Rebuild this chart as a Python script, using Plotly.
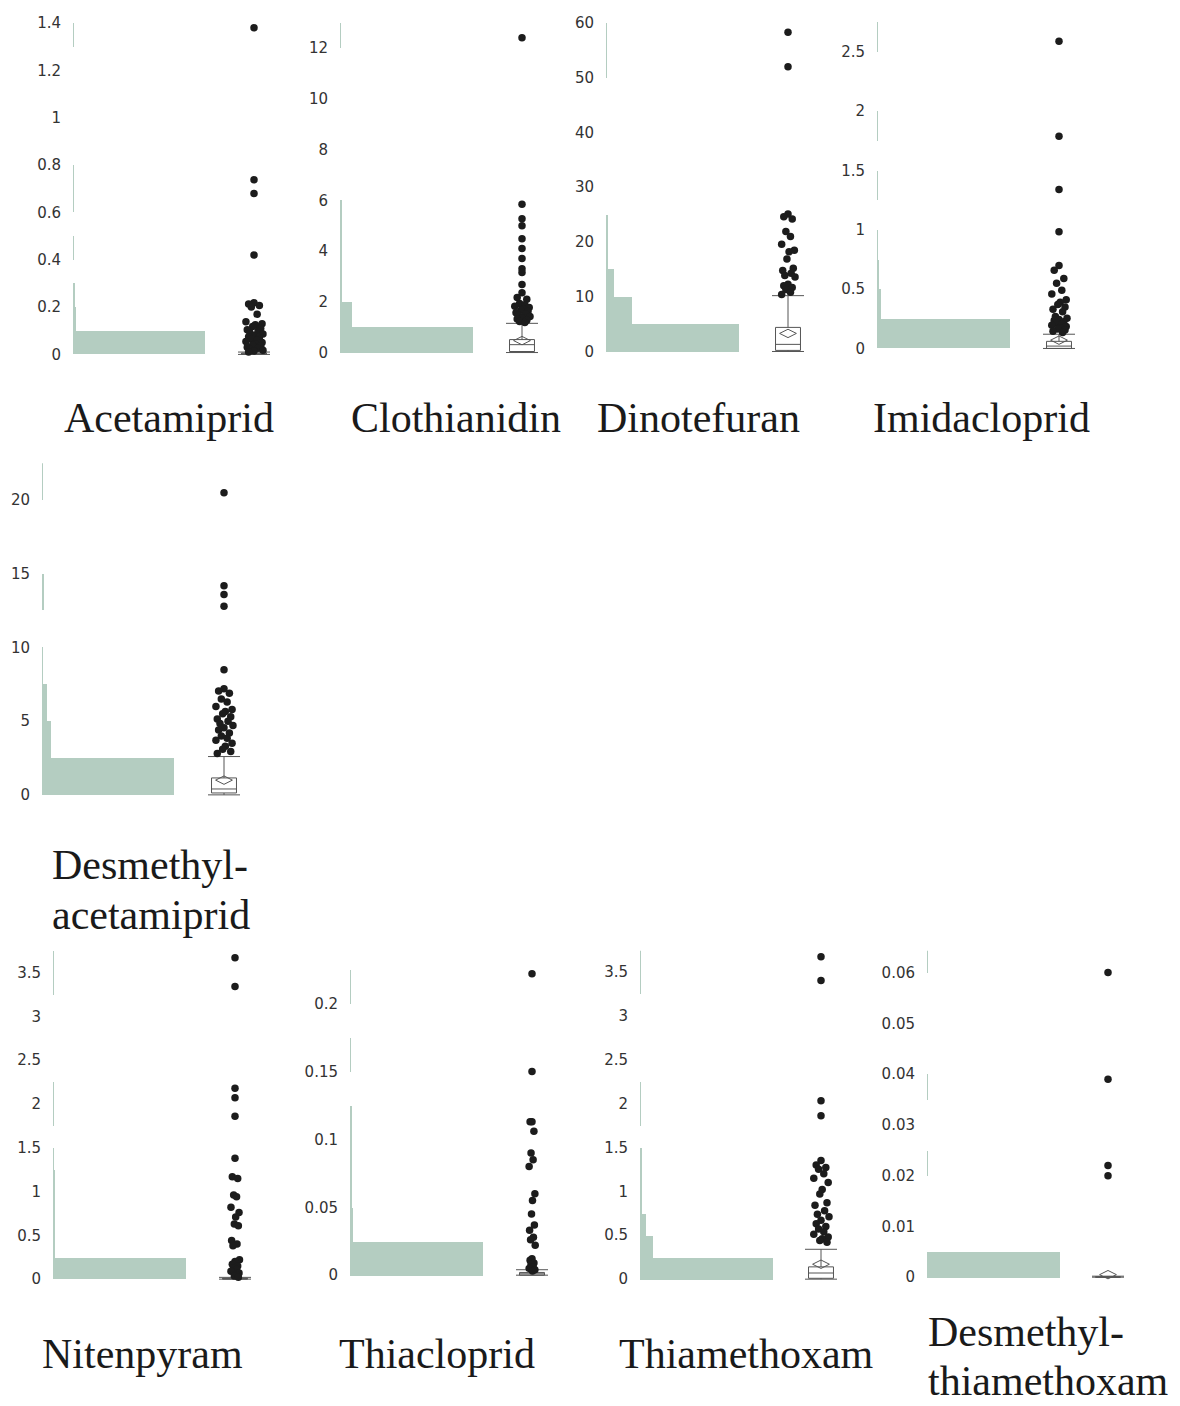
import plotly.graph_objects as go

# ======================= DATA =======================
TITLES = [["Acetamiprid"], ["Clothianidin"], ["Dinotefuran"], ["Imidacloprid"],
          ["Desmethyl-", "acetamiprid"], ["Nitenpyram"], ["Thiacloprid"],
          ["Thiamethoxam"], ["Desmethyl-", "thiamethoxam"]]

BIN_WIDTHS = [0.1, 1, 5, 0.25, 2.5, 0.25, 0.025, 0.25, 0.005]
TICK_STEPS = [0.2, 2, 10, 0.5, 5, 0.5, 0.05, 0.5, 0.01]

ACET_COUNTS = [262, 6, 3, 0, 1, 0, 1, 1, 0, 0, 0, 0, 0, 1]
CLOTH_COUNTS = [250, 23, 3, 2, 2, 3, 0, 0, 0, 0, 0, 0, 1]
DINO_COUNTS = [250, 49, 15, 2, 2, 0, 0, 0, 0, 0, 1, 1]
IMID_COUNTS = [260, 7, 3, 1, 0, 1, 0, 1, 0, 0, 1]
DESA_COUNTS = [250, 17, 9, 1, 0, 3, 0, 0, 1]
NIT_COUNTS = [280, 3, 3, 3, 3, 1, 0, 1, 2, 0, 0, 0, 0, 1, 1]
THIAC_COUNTS = [270, 6, 3, 3, 3, 0, 1, 0, 1]
THIAM_COUNTS = [260, 26, 11, 2, 3, 2, 0, 1, 1, 0, 0, 0, 0, 1, 1]
DEST_COUNTS = [290, 0, 0, 0, 2, 0, 0, 1, 0, 0, 0, 0, 1]

ACET_OUT = [1.38, 0.738, 0.68, 0.42, 0.218, 0.213, 0.207, 0.2, 0.17, 0.138, 0.13,
            0.125, 0.118, 0.11, 0.104, 0.098, 0.092, 0.086, 0.08, 0.075, 0.07, 0.065,
            0.06, 0.055, 0.05, 0.045, 0.04, 0.035, 0.03, 0.026, 0.022, 0.018, 0.014, 0.01]
CLOTH_OUT = [12.4, 5.84, 5.27, 5.0, 4.48, 4.1, 3.7, 3.3, 3.15, 2.68, 2.36, 2.17, 2.1,
             1.93, 1.88, 1.82, 1.77, 1.72, 1.67, 1.62, 1.57, 1.52, 1.47, 1.42, 1.37,
             1.32, 1.27, 1.22, 1.18]
DINO_OUT = [58.3, 52.0, 25.1, 24.6, 24.2, 21.9, 21.0, 19.6, 18.5, 18.2, 16.9, 15.2,
            14.8, 14.3, 13.9, 13.6, 12.3, 12.0, 11.7, 11.3, 10.8, 10.4]
IMID_OUT = [2.59, 1.79, 1.34, 0.985, 0.70, 0.66, 0.59, 0.55, 0.49, 0.46, 0.41, 0.39,
            0.37, 0.35, 0.33, 0.31, 0.27, 0.255, 0.245, 0.235, 0.225, 0.215, 0.205,
            0.195, 0.185, 0.175, 0.165, 0.155, 0.145, 0.135]
DESA_OUT = [20.5, 14.2, 13.6, 12.8, 8.5, 7.2, 7.05, 6.9, 6.5, 6.3, 6.0, 5.8, 5.65, 5.5,
            5.3, 5.15, 5.0, 4.85, 4.7, 4.55, 4.4, 4.2, 4.0, 3.85, 3.7, 3.5, 3.3, 3.1,
            2.95, 2.8]
NIT_OUT = [3.67, 3.34, 2.18, 2.07, 1.86, 1.38, 1.17, 1.15, 0.96, 0.94, 0.82, 0.76,
           0.71, 0.63, 0.61, 0.44, 0.40, 0.38, 0.22, 0.2, 0.17, 0.15, 0.13, 0.11, 0.09,
           0.07, 0.05, 0.035, 0.02]
THIAC_OUT = [0.222, 0.15, 0.113, 0.113, 0.106, 0.09, 0.085, 0.08, 0.06, 0.055, 0.045,
             0.037, 0.033, 0.028, 0.026, 0.022, 0.012, 0.011, 0.009, 0.008, 0.006,
             0.005, 0.004, 0.003]
THIAM_OUT = [3.67, 3.40, 2.03, 1.86, 1.35, 1.3, 1.27, 1.25, 1.2, 1.15, 1.1, 1.02, 0.97,
             0.87, 0.84, 0.78, 0.74, 0.71, 0.67, 0.63, 0.6, 0.57, 0.54, 0.51, 0.48,
             0.46, 0.44, 0.42]
DEST_OUT = [0.06, 0.039, 0.022, 0.02]

BOX_Q1 = [0, 0.04, 0.2, 0, 0.13, 0, 0, 0.01, 0]
BOX_MED = [0.003, 0.31, 1.3, 0.02, 0.4, 0.005, 0.001, 0.07, 0]
BOX_Q3 = [0.006, 0.51, 4.4, 0.06, 1.15, 0.01, 0.002, 0.14, 0.0001]
BOX_LO = [0, 0, 0, 0, 0, 0, 0, 0, 0]
BOX_HI = [0.01, 1.15, 10.2, 0.12, 2.6, 0.02, 0.004, 0.34, 0.0002]
BOX_MEAN = [None, 0.47, 3.3, 0.07, 1.0, None, None, 0.17, 0.0005]

COUNTS = [ACET_COUNTS, CLOTH_COUNTS, DINO_COUNTS, IMID_COUNTS, DESA_COUNTS,
          NIT_COUNTS, THIAC_COUNTS, THIAM_COUNTS, DEST_COUNTS]
OUTLIERS = [ACET_OUT, CLOTH_OUT, DINO_OUT, IMID_OUT, DESA_OUT,
            NIT_OUT, THIAC_OUT, THIAM_OUT, DEST_OUT]

# ======================= LAYOUT GEOMETRY (page pixels) =======================
PAGE_W, PAGE_H = 1180, 1406
OFF = 8                      # default page body margin
W, H = PAGE_W - OFF, PAGE_H - OFF
# hist_left, bar_end, dot_center, top, bottom, ymin, ymax
GEOM = [
    (73, 205, 254, 14, 365, -0.051, 1.43),
    (340, 473, 522, 14, 365, -0.55, 13.26),
    (606, 739, 788, 14, 365, -2.74, 61.28),
    (877, 1010, 1059, 14, 365, -0.152, 2.803),
    (42, 174, 224, 462, 830, -2.44, 22.5),
    (53, 186, 235, 950, 1300, -0.24, 3.75),
    (350, 483, 532, 950, 1300, -0.0184, 0.239),
    (640, 773, 821, 950, 1300, -0.239, 3.74),
    (927, 1060, 1108, 950, 1300, -0.00452, 0.0643),
]
# jitter: (value threshold below which points are spread, amplitude)
SPREAD = [(0.23, 0.28), (2.5, 0.25), (26, 0.22), (0.75, 0.25), (7.5, 0.28),
          (1.5, 0.14), (0.12, 0.1), (1.4, 0.25), (0, 0)]
JITTER = [0.0, -0.6, 0.6, -0.3, 0.35, -0.9, 0.9, 0.15, -0.15, 0.75, -0.75, 0.45, -0.45, 1.0]
TITLE_POS = [
    [(62, 430)], [(349, 430)], [(595, 430)], [(871, 430)],
    [(50, 877), (50, 927)], [(40, 1367)], [(337, 1367)], [(617, 1367)],
    [(926, 1345), (926, 1394)],
]

BAR_FILL = "#b4cdc1"
DOT = "#1c1c1c"
BOXLINE = "#555555"

fig = go.Figure()
layout = {}


def xf(px):
    return (px - OFF) / W


def yf(py):
    return 1 - (py - OFF) / H


for i in range(9):
    hl, be, c, top, bot, ymin, ymax = GEOM[i]
    hx = 2 * i + 1
    bx = 2 * i + 2
    yn = i + 1
    hx_ref = "x" if hx == 1 else f"x{hx}"
    bx_ref = f"x{bx}"
    y_ref = "y" if yn == 1 else f"y{yn}"
    bw = BIN_WIDTHS[i]
    cnts = COUNTS[i]
    centers = [bw * (k + 0.5) for k in range(len(cnts))]

    fig.add_trace(go.Bar(
        x=cnts, y=centers, orientation="h", width=bw,
        marker=dict(color=BAR_FILL, line=dict(width=0)),
        xaxis=hx_ref, yaxis=y_ref, showlegend=False, hoverinfo="x+y"))

    # box
    fig.add_trace(go.Box(
        x=[0], q1=[BOX_Q1[i]], median=[BOX_MED[i]], q3=[BOX_Q3[i]],
        lowerfence=[BOX_LO[i]], upperfence=[BOX_HI[i]],
        width=0.78, whiskerwidth=0.0, boxpoints=False,
        fillcolor="white", line=dict(color=BOXLINE, width=1),
        xaxis=bx_ref, yaxis=y_ref, showlegend=False))
    # whisker caps
    for val in (BOX_LO[i], BOX_HI[i]):
        fig.add_trace(go.Scatter(
            x=[-0.5, 0.5], y=[val, val], mode="lines",
            line=dict(color=BOXLINE, width=1),
            xaxis=bx_ref, yaxis=y_ref, showlegend=False, hoverinfo="skip"))
    if BOX_MEAN[i] is not None:
        fig.add_trace(go.Scatter(
            x=[0], y=[BOX_MEAN[i]], mode="markers",
            marker=dict(symbol="diamond-wide-open", size=12,
                        color=BOXLINE, line=dict(width=1, color=BOXLINE)),
            xaxis=bx_ref, yaxis=y_ref, showlegend=False, hoverinfo="y"))

    # outlier points
    thr, amp = SPREAD[i]
    xs = []
    j = 0
    for v in OUTLIERS[i]:
        if v < thr:
            xs.append(JITTER[j % len(JITTER)] * amp)
            j += 1
        else:
            xs.append(0.0)
    fig.add_trace(go.Scatter(
        x=xs, y=OUTLIERS[i], mode="markers",
        marker=dict(size=7.5, color=DOT),
        xaxis=bx_ref, yaxis=y_ref, showlegend=False, hoverinfo="y"))

    hist_key = "xaxis" if hx == 1 else f"xaxis{hx}"
    box_key = f"xaxis{bx}"
    y_key = "yaxis" if yn == 1 else f"yaxis{yn}"
    layout[hist_key] = dict(domain=[xf(hl), xf(be)], range=[0, cnts[0]],
                            anchor=y_ref, visible=False, fixedrange=True)
    layout[box_key] = dict(domain=[xf(c - 32), xf(c + 32)], range=[-1, 1],
                           anchor=y_ref, visible=False, fixedrange=True)
    layout[y_key] = dict(domain=[yf(bot), yf(top)], range=[ymin, ymax],
                         anchor=hx_ref, tick0=0, dtick=TICK_STEPS[i],
                         showgrid=False, zeroline=False, showline=False,
                         ticks="outside", ticklen=8, tickcolor="rgba(0,0,0,0)",
                         tickfont=dict(family="DejaVu Sans", size=15, color="#333333"))

annotations = []
for i in range(9):
    for line, (px, base) in zip(TITLES[i], TITLE_POS[i]):
        annotations.append(dict(
            text=line, x=xf(px), y=yf(base - 13), xref="paper", yref="paper",
            xanchor="left", yanchor="middle", showarrow=False,
            font=dict(family="Liberation Serif", size=42, color="#1a1a1a")))

fig.update_layout(
    width=W, height=H, margin=dict(l=0, r=0, t=0, b=0),
    paper_bgcolor="white", plot_bgcolor="white",
    showlegend=False, annotations=annotations, bargap=0, barmode="overlay",
    **layout)

fig.write_html("out.html")
